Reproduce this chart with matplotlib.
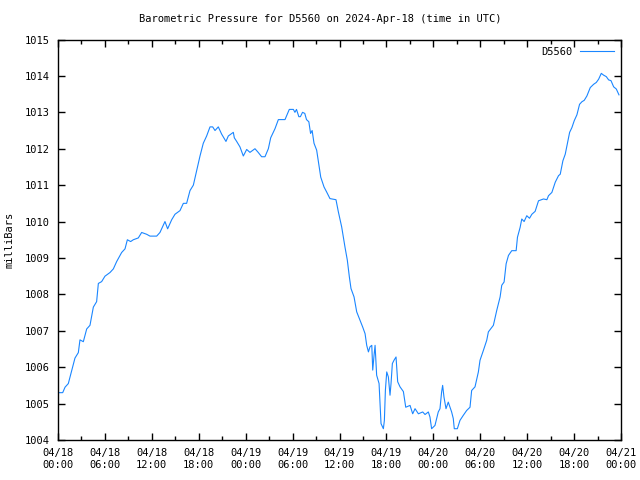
import matplotlib
matplotlib.use("Agg")
import matplotlib.pyplot as plt
import matplotlib.dates as mdates
import numpy as np
import pandas as pd

# hours after 2024-04-18 00:00 UTC
hours = [0.04, 0.6, 0.9, 1.32, 1.75, 2.17, 2.6, 2.81, 3.24, 3.67, 4.09, 4.52, 4.94, 5.16, 5.58,
         6.01, 6.65, 7.08, 7.5, 8.14, 8.57, 8.87, 9.29, 9.63, 10.27, 10.7, 11.34, 11.76, 12.62,
         13.04, 13.47, 13.68, 14.02, 14.54, 14.96, 15.6, 16.03, 16.45, 16.88, 17.31, 17.73,
         18.16, 18.58, 19.01, 19.44, 19.78, 20.08, 20.5, 20.93, 21.48, 21.78, 22.42, 22.55,
         22.85, 23.27, 23.7, 24.13, 24.55, 25.19, 25.6, 26.04, 26.47, 26.9, 27.2, 27.75, 28.18,
         29.03, 29.58, 30.1, 30.3, 30.5, 30.8, 31.0, 31.27, 31.56, 31.78, 32.08, 32.3, 32.5,
         32.74, 33.08, 33.3, 33.6, 34.02, 34.36, 34.78, 35.55, 35.85, 36.28, 36.7, 37.0, 37.26,
         37.47, 37.86, 38.2, 38.63, 38.97, 39.27, 39.48, 39.7, 39.9, 40.13, 40.25, 40.42, 40.55,
         40.75, 41.06, 41.18, 41.31, 41.61, 41.74, 41.87, 42.04, 42.25, 42.46, 42.59, 42.76,
         42.97, 43.23, 43.44, 43.74, 44.17, 44.47, 45.02, 45.36, 45.66, 46.09, 46.64, 46.94,
         47.36, 47.57, 47.78, 48.21, 48.42, 48.63, 48.85, 49.06, 49.19, 49.36, 49.62, 49.91,
         50.13, 50.34, 50.55, 50.68, 51.07, 51.41, 51.84, 52.26, 52.69, 52.9, 53.33, 53.76,
         53.97, 54.4, 54.83, 55.04, 55.68, 56.11, 56.54, 56.75, 57.05, 57.31, 57.61, 58.03,
         58.59, 58.76, 59.1, 59.31, 59.61, 59.95, 60.3, 60.6, 61.02, 61.45, 62.09, 62.52, 62.73,
         63.16, 63.59, 64.01, 64.23, 64.57, 64.87, 65.08, 65.43, 65.72, 66.02, 66.36, 66.7, 67.0,
         67.3, 67.64, 68.07, 68.5, 68.84, 69.14, 69.48, 69.78, 70.12, 70.42, 70.72, 71.06, 71.4,
         71.74]
pressure = [1005.3, 1005.3, 1005.45, 1005.55, 1005.9, 1006.25, 1006.4, 1006.75, 1006.7, 1007.05,
            1007.15, 1007.65, 1007.8, 1008.3, 1008.35, 1008.5, 1008.6, 1008.7, 1008.9, 1009.15,
            1009.25, 1009.5, 1009.45, 1009.5, 1009.55, 1009.7, 1009.65, 1009.6, 1009.6, 1009.7,
            1009.9, 1010.0, 1009.8, 1010.05, 1010.2, 1010.3, 1010.5, 1010.5, 1010.85, 1011.0,
            1011.4, 1011.8, 1012.15, 1012.35, 1012.6, 1012.6, 1012.5, 1012.6, 1012.4, 1012.2,
            1012.35, 1012.45, 1012.3, 1012.2, 1012.05, 1011.8, 1011.98, 1011.9, 1012.0, 1011.9,
            1011.78, 1011.78, 1012.0, 1012.3, 1012.55, 1012.8, 1012.8, 1013.08, 1013.08, 1013.0,
            1013.08, 1012.88, 1012.88, 1013.0, 1012.97, 1012.8, 1012.74, 1012.42, 1012.5,
            1012.15, 1011.96, 1011.64, 1011.22, 1010.95, 1010.81, 1010.63, 1010.6, 1010.27,
            1009.85, 1009.3, 1008.94, 1008.48, 1008.16, 1007.93, 1007.52, 1007.29, 1007.1,
            1006.92, 1006.6, 1006.42, 1006.56, 1006.6, 1005.92, 1006.33, 1006.6, 1005.78,
            1005.55, 1005.0, 1004.45, 1004.31, 1004.54, 1005.37, 1005.87, 1005.73, 1005.23,
            1005.55, 1006.1, 1006.19, 1006.28, 1005.6, 1005.46, 1005.33, 1004.9, 1004.95,
            1004.72, 1004.86, 1004.72, 1004.77, 1004.7, 1004.77, 1004.63, 1004.31, 1004.4,
            1004.59, 1004.77, 1004.86, 1005.32, 1005.5, 1005.18, 1004.86, 1005.04, 1004.9,
            1004.77, 1004.59, 1004.31, 1004.31, 1004.54, 1004.68, 1004.81, 1004.9, 1005.36,
            1005.46, 1005.87, 1006.19, 1006.46, 1006.74, 1006.97, 1007.15, 1007.56, 1007.93,
            1008.25, 1008.34, 1008.84, 1009.07, 1009.2, 1009.2, 1009.57, 1009.84, 1010.07,
            1010.0, 1010.16, 1010.09, 1010.2, 1010.28, 1010.57, 1010.62, 1010.6, 1010.71,
            1010.8, 1011.08, 1011.26, 1011.3, 1011.67, 1011.85, 1012.08, 1012.45, 1012.58,
            1012.77, 1012.93, 1013.22, 1013.29, 1013.33, 1013.45, 1013.68, 1013.77, 1013.82,
            1013.91, 1014.07, 1014.02, 1013.98, 1013.89, 1013.87, 1013.7, 1013.64, 1013.48]

start = pd.Timestamp("2024-04-18 00:00")
times = start + pd.to_timedelta(np.array(hours), unit="h")

plt.rcParams["font.family"] = "DejaVu Sans Mono"
plt.rcParams["font.size"] = 7.5

fig = plt.figure(figsize=(6.4, 4.8), dpi=100)
ax = fig.add_axes([58 / 640, 1 - 440 / 480, 563 / 640, 400.5 / 480])

ax.plot(times, pressure, color="#1a86ff", linewidth=0.8, label="D5560")

ax.set_xlim(start, start + pd.Timedelta(hours=72))
ax.set_ylim(1004, 1015)
ax.set_yticks(range(1004, 1016))
ax.xaxis.set_major_locator(mdates.HourLocator(byhour=[0, 6, 12, 18]))
ax.xaxis.set_minor_locator(mdates.HourLocator(byhour=[3, 9, 15, 21]))
ax.xaxis.set_major_formatter(mdates.DateFormatter("%m/%d\n%H:%M"))

ax.tick_params(which="both", direction="in", top=True, right=True, color="black")
ax.tick_params(which="major", length=5, width=1, pad=6)
ax.tick_params(which="minor", length=3, width=1)
for spine in ax.spines.values():
    spine.set_linewidth(1)

ax.set_ylabel("milliBars", labelpad=7)
fig.text(0.5, 1 - 19 / 480, "Barometric Pressure for D5560 on 2024-Apr-18 (time in UTC)",
         ha="center", va="center")

leg = ax.legend(loc="upper right", frameon=False, markerfirst=False,
                handlelength=3.2, borderaxespad=0.3, handletextpad=0.8)

fig.savefig("out.png", dpi=100)
